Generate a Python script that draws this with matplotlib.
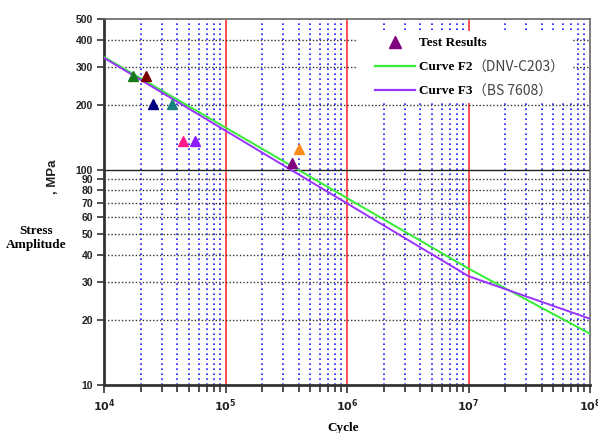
import numpy as np
import matplotlib
matplotlib.use("Agg")
import matplotlib.pyplot as plt
from matplotlib.ticker import FixedLocator, NullFormatter
from matplotlib.lines import Line2D
from matplotlib.patches import Rectangle

# ---- data ----
test_N = [17.3e3, 22.2e3, 25.3e3, 36.3e3, 44.6e3, 56e3, 403e3, 352e3]
test_S = [271, 271, 201, 201, 135.5, 135.5, 124, 107]
test_colors = ['#1a7a1a', '#7a0000', '#000080', '#1a8080', '#ff1a8c', '#8c1aff', '#ff8c1a', '#800080']

f2_N = [1e4, 1e7, 1e8]
f2_S = [333, 34.7, 17.3]

f3_N = [1e4, 1e7, 1e8]
f3_S = [330, 32.0, 20.3]

y_ticks = [10, 20, 30, 40, 50, 60, 70, 80, 90, 100, 200, 300, 400, 500]
y_grid_dotted = [20, 30, 40, 50, 60, 70, 80, 90, 200, 300, 400]
x_decades = [1e4, 1e5, 1e6, 1e7, 1e8]
x_labels = ['$\\mathbf{10^{4}}$', '$\\mathbf{10^{5}}$', '$\\mathbf{10^{6}}$', '$\\mathbf{10^{7}}$', '$\\mathbf{10^{8}}$']

W, H = 598, 433
fig = plt.figure(figsize=(W / 100, H / 100), dpi=100)
ax = fig.add_axes([104 / W, 1 - 385 / H, 486 / W, 366 / H])
ax.set_xscale('log')
ax.set_yscale('log')
ax.set_xlim(1e4, 1e8)
ax.set_ylim(10, 500)

# grid lines
minor_x = [m * d for d in [1e4, 1e5, 1e6, 1e7] for m in range(2, 10)]
for xv in minor_x:
    ax.axvline(xv, color='#1a1aff', lw=1.2, ls=(0, (1, 2)), zorder=1)
for xv in x_decades[1:-1]:
    ax.axvline(xv, color='#ff3030', lw=1.2, zorder=1)
for yv in y_grid_dotted:
    ax.axhline(yv, color='#333333', lw=1.0, ls=(0, (1, 1.5)), zorder=1)
ax.axhline(100, color='#222222', lw=1.0, zorder=1)

# curves
ax.plot(f2_N, f2_S, color='#33ee33', lw=1.4, zorder=3)
ax.plot(f3_N, f3_S, color='#9933ff', lw=1.4, zorder=3)

# test results
for n, s, c in zip(test_N, test_S, test_colors):
    ax.plot([n], [s], marker='^', ms=7.5, color=c, ls='none', zorder=4)

# ticks
ax.yaxis.set_major_locator(FixedLocator(y_ticks))
ax.yaxis.set_minor_locator(FixedLocator([]))
ax.set_yticklabels([str(v) for v in y_ticks])
ax.xaxis.set_major_locator(FixedLocator(x_decades))
ax.xaxis.set_minor_locator(FixedLocator(minor_x))
ax.xaxis.set_minor_formatter(NullFormatter())
ax.set_xticklabels(x_labels)
ax.tick_params(axis='y', which='major', length=5, width=1.2, color='#333333', pad=3,
               labelsize=7.5, labelcolor='#222222')
ax.tick_params(axis='x', which='major', length=6, width=1.2, color='#333333', pad=3,
               labelsize=8, labelcolor='#222222')
ax.tick_params(axis='x', which='minor', length=5, width=1.2, color='#333333')
for lab in ax.get_yticklabels():
    lab.set_fontweight('bold')
    lab.set_family('Liberation Sans')

for side in ['left', 'bottom']:
    ax.spines[side].set_linewidth(2)
    ax.spines[side].set_color('#333333')
for side in ['top', 'right']:
    ax.spines[side].set_linewidth(1.2)
    ax.spines[side].set_color('#666666')

# axis labels
fig.text(36 / W, 1 - 238 / H, 'Stress\nAmplitude', ha='center', va='center',
         family='Liberation Serif', weight='bold', fontsize=9.5, linespacing=1.2)
fig.text(53 / W, 1 - 177 / H, ', MPa', ha='center', va='center', rotation=90,
         family='Liberation Sans', weight='bold', fontsize=9.5, color='#222222')
fig.text(343 / W, 1 - 428 / H, 'Cycle', ha='center', va='center',
         family='Liberation Serif', weight='bold', fontsize=9.5)

# legend background area
bg = Rectangle((357 / W, 1 - 103 / H), 216 / W, 72 / H, transform=fig.transFigure,
               facecolor='white', edgecolor='none', zorder=9)
ax.add_artist(bg)
bg.set_clip_on(False)

# legend
handles = [
    Line2D([], [], marker='^', color='#800080', ls='none', ms=8),
    Line2D([], [], color='#33ee33', lw=1.6),
    Line2D([], [], color='#9933ff', lw=1.6),
]
labels = ['Test Results', 'Curve F2', 'Curve F3']
leg = ax.legend(handles, labels, loc='upper left',
                bbox_to_anchor=(371 / W, 1 - 33 / H), bbox_transform=fig.transFigure,
                prop={'family': 'Liberation Serif', 'weight': 'bold', 'size': 9.5},
                frameon=False, handlelength=3.0, handletextpad=0.35,
                labelspacing=0.9, borderpad=0.3, borderaxespad=0)
leg.set_zorder(10)

fig.canvas.draw()
renderer = fig.canvas.get_renderer()
extras = ['', '（DNV-C203）', '（BS 7608）']
ltexts = leg.get_texts()
for t, extra in zip(ltexts, extras):
    if not extra:
        continue
    bb = t.get_window_extent(renderer)
    x0 = bb.x1 + 0
    yc = (bb.y0 + bb.y1) / 2
    fig.text(x0 / W, yc / H, extra, ha='left', va='center',
             family=['Noto Sans CJK SC', 'DejaVu Sans'], fontsize=10,
             color='#444444', zorder=11)

fig.savefig('out.png', dpi=100)
